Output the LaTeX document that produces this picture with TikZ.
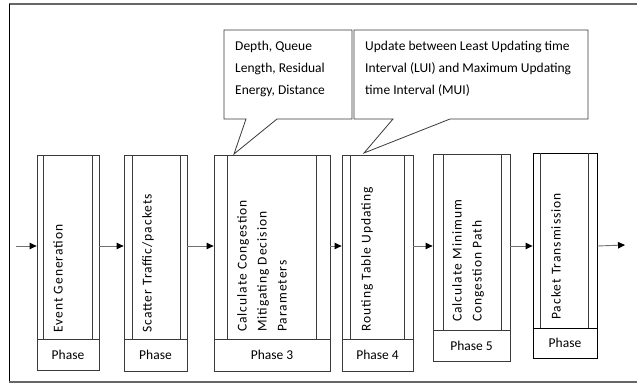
\documentclass[tikz,border=0pt]{standalone}
\usepackage{fontspec}
\setmainfont{Carlito}
\newfontfamily\vfont[LetterSpace=7.5]{Carlito}
\usetikzlibrary{arrows.meta,calc}
\definecolor{edge}{HTML}{3A3A3A}
\definecolor{arrgray}{HTML}{707070}
\newcommand\pbox[9]{%
  \node[boxst, outerst, minimum width={(#3-#2)*1pt}, minimum height={(#5-#4)*1pt}] (#1) at ({(#2+#3)/2},{(#4+#5)/2}) {};
  \draw[boxst] (#7,#4) -- (#7,#5);
  \draw[boxst] (#8,#4) -- (#8,#5);
  \node[boxst, outerst, font=\fontsize{13.5}{16}\selectfont, minimum width={(#3-#2)*1pt}, minimum height={(#6-#5)*1pt}] (#1p) at ({(#2+#3)/2},{(#5+#6)/2}) {#9};
}
\begin{document}
\begin{tikzpicture}[x=1pt,y=-1pt,
  boxst/.style={draw=edge, line width=0.8pt, inner sep=0pt},
  outerst/.style={},
  vtext/.style={rotate=90, anchor=north west, align=left, inner sep=0pt, font=\vfont\fontsize{13.5}{20}\selectfont},
  ctext/.style={anchor=north west, align=left, inner sep=0pt, font=\fontsize{13.5}{22}\selectfont},
  arr/.style={draw=arrgray, line width=0.9pt, -{Triangle[length=7pt,width=6.5pt,fill=black,color=black]}},
  callout/.style={draw=edge, line width=0.8pt, fill=white, line join=miter}]
\useasboundingbox (0,0) rectangle (637,385);
% frame
\draw[draw=gray!80!black, line width=1.6pt] (9,4) -- (637,4);
\draw[black, line width=0.9pt] (9,4) -- (9,383);
\draw[draw=gray!80!black, line width=1.8pt] (9,382) -- (637,382);
% boxes
\pbox{b1}{37}{99}{155}{339}{370}{43}{92}{Phase}
\pbox{b2}{124}{187}{155}{339}{371}{132}{180}{Phase}
\pbox{b3}{214}{330}{155}{339}{371}{227}{316}{Phase 3}
\pbox{b4}{342}{413}{155}{339}{371}{350}{404}{Phase 4}
\pbox{b5}{433}{510}{154}{330}{361}{443}{501}{Phase 5}
\begin{scope}[outerst/.style={line width=0.9pt, draw=black}]
\pbox{b6}{533}{597}{153}{328}{358}{540}{588}{Phase}
\end{scope}
% vertical texts
\node[vtext] (t1) at (53,333) {Event Generation};
\node[vtext] (t2) at (142,333) {Scatter Traffic/packets};
\node[vtext] (t3) at (237,332) {Calculate Congestion\\Mitigating Decision\\Parameters};
\node[vtext] (t4) at (361,332) {Routing Table Updating};
\node[vtext] (t5) at (452,322) {Calculate Minimum\\Congestion Path};
\node[vtext] (t6) at (551,320) {Packet Transmission};
% arrows
\coordinate (row) at (0,246);
\coordinate (start) at (16,246);
\coordinate (finish) at (625,245);
\draw[arr] (start) -- (b1.west |- row);
\draw[arr] (b1.east |- row) -- (b2.west |- row);
\draw[arr] (b2.east |- row) -- (b3.west |- row);
\draw[arr] (b3.east |- row) -- (b4.west |- row);
\draw[arr] (b4.east |- row) -- (b5.west |- row);
\draw[arr] (b5.east |- row) -- (b6.west |- row);
\draw[arr] (b6.east |- row) -- (finish);
% callouts
\draw[callout] (224,30) -- (352,30) -- (352,119) -- (277,119) -- (234,154) -- (246,119) -- (224,119) -- cycle;
\draw[callout] (354,30) -- (588,30) -- (588,119) -- (450,119) -- (364,153) -- (393,119) -- (354,119) -- cycle;
\node[ctext] (c1) at (235,41) {Depth, Queue\\Length, Residual\\Energy, Distance};
\node[ctext] (c2) at (365,41) {Update between Least Updating time\\Interval (LUI) and Maximum Updating\\time Interval (MUI)};
\end{tikzpicture}
\end{document}
